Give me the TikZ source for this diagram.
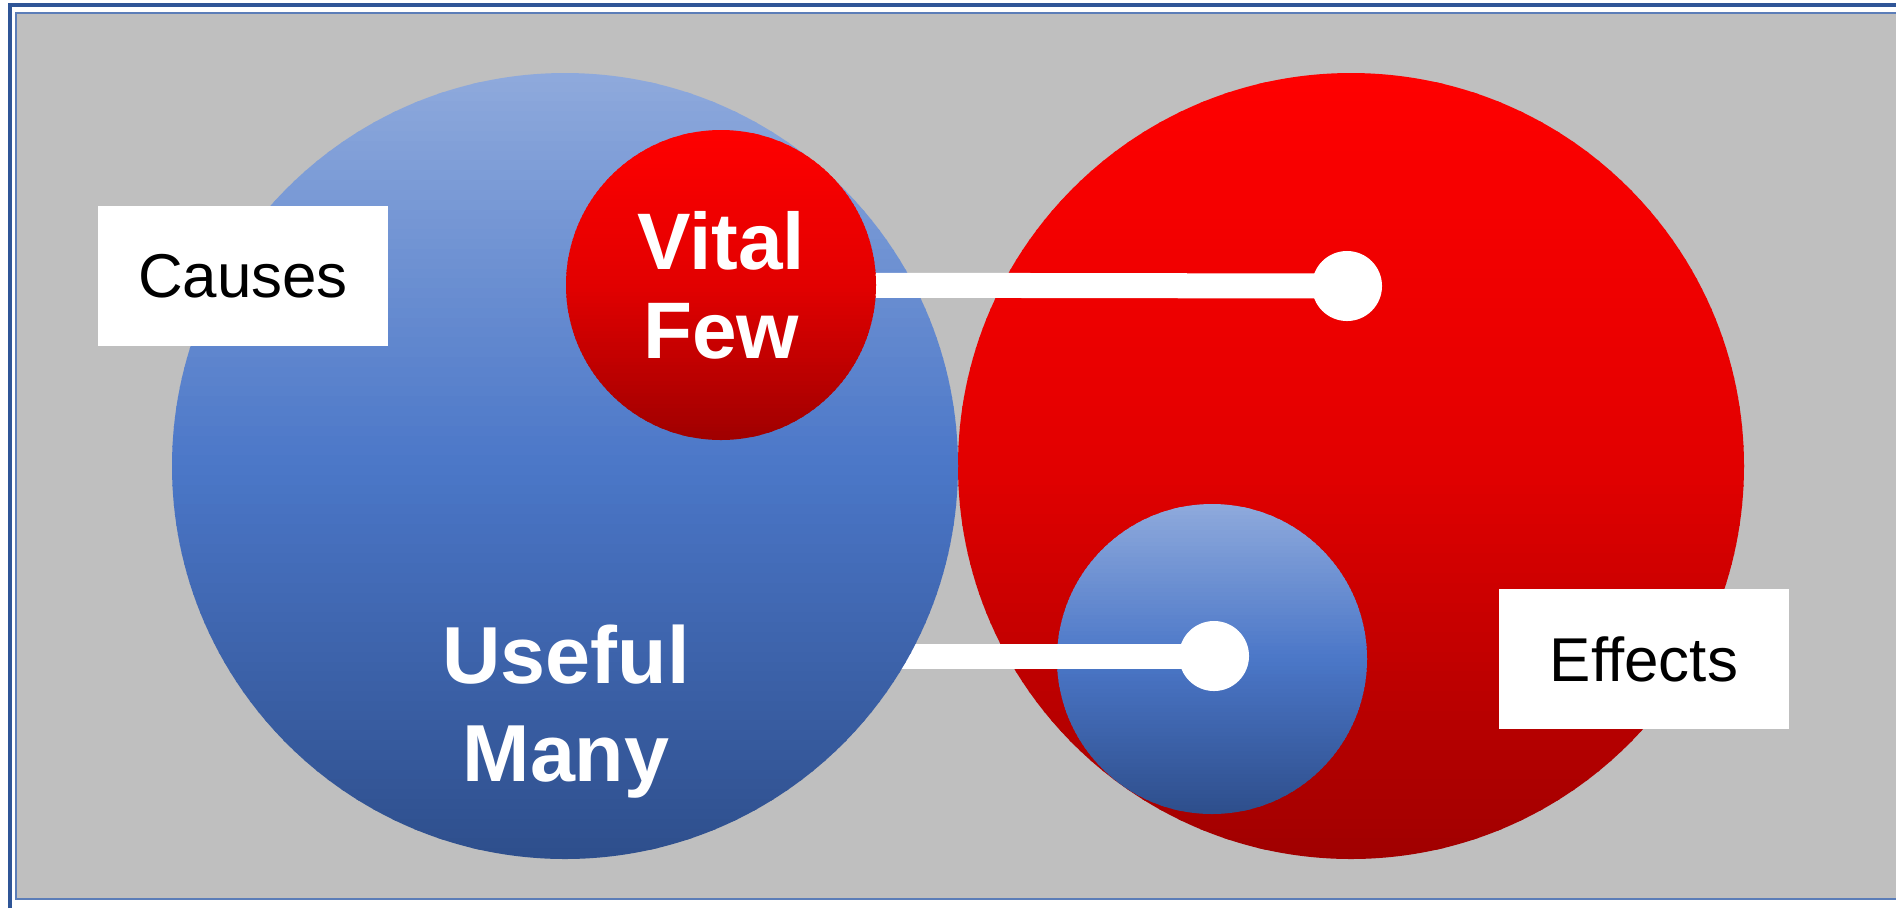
\documentclass[tikz,border=0pt]{standalone}
\usepackage{fontspec}
\setmainfont{Liberation Sans}
\usepackage{tikz}
\usetikzlibrary{backgrounds}
\usetikzlibrary{positioning}
\definecolor{paretogrey}{HTML}{BFBFBF}
\definecolor{frameblue}{HTML}{2F5597}
\definecolor{framelight}{HTML}{5B7DB8}
\definecolor{bluetop}{HTML}{8FAADC}
\definecolor{bluemid}{HTML}{4B77C8}
\definecolor{bluebottom}{HTML}{2E4E8C}
\definecolor{redtop}{HTML}{FF0000}
\definecolor{redmid}{HTML}{E20000}
\definecolor{redbottom}{HTML}{A00000}
\newcommand{\drawGradientDisc}[5]{\begin{scope}[shift={(#1)}]
    \clip (0,0) circle[radius=#2];
    \foreach \k in {0,...,79}{
        \pgfmathsetmacro\pct{mod(\k,40)*2.5+1.25}
        \ifnum\k<40 \def\stripcol{#4!\pct!#3}\else\def\stripcol{#5!\pct!#4}\fi
        \fill[\stripcol] (-#2-2, {-#2+\k*(#2/40)-1}) rectangle (#2+2, {-#2+(\k+1)*(#2/40)+1});
    }
    \end{scope}}
\tikzset{x=0.01cm, y=-0.01cm,
    bigdisc/.style={circle, minimum size=7.86cm, inner sep=0pt},
    smalldisc/.style={circle, minimum size=3.1cm, inner sep=0pt},
    whitedot/.style={circle, fill=white, minimum size=0.70cm, inner sep=0pt},
    bar/.style={draw=white, line width=0.25cm},
    labelbox/.style={fill=white, minimum width=2.9cm, minimum height=1.40cm, inner sep=0pt,
        font=\fontsize{17.6}{20}\selectfont},
    bigtext/.style={white, align=center}}

\begin{document}
\begin{tikzpicture}
\useasboundingbox (0,0) rectangle (1896,908);
% frame
\fill[paretogrey] (16,13) rectangle (1900,899);
\draw[framelight, line width=0.45pt] (1900,13) -- (16,13) -- (16,899) -- (1900,899);
\draw[frameblue, line width=0.9pt] (10,908) -- (10,5) -- (1900,5);

\node[bigdisc]   (causes disc)  at (565,466)  {};
\node[bigdisc]   (effects disc) at (1351,466) {};
\node[smalldisc] (many disc)    at (1212,659) {};
\node[smalldisc] (vital disc)   at (721,285)  {};

\drawGradientDisc{effects disc}{393}{redtop}{redmid}{redbottom}
\drawGradientDisc{many disc}{155}{bluetop}{bluemid}{bluebottom}
\node[whitedot] (dot many) at (1214,656) {};
\draw[bar] (causes disc.center |- dot many) -- (dot many.center);

\drawGradientDisc{causes disc}{393}{bluetop}{bluemid}{bluebottom}
\node[whitedot] (dot vital) at (1347,286) {};
\draw[bar] (vital disc.center) -- (dot vital.center);

\drawGradientDisc{vital disc}{155}{redtop}{redmid}{redbottom}
\node[bigtext, font=\bfseries\fontsize{22.8}{25.3}\selectfont]
    (vital few) at (vital disc) {Vital\\Few};
\node[bigtext, font=\bfseries\fontsize{23}{27.9}\selectfont]
    (useful many) at (566,712) {Useful\\Many};

\node[labelbox] (causes) at (243,276) {Causes};
\node[labelbox] (effects) at (1644,659) {Effects};
\end{tikzpicture}
\end{document}
